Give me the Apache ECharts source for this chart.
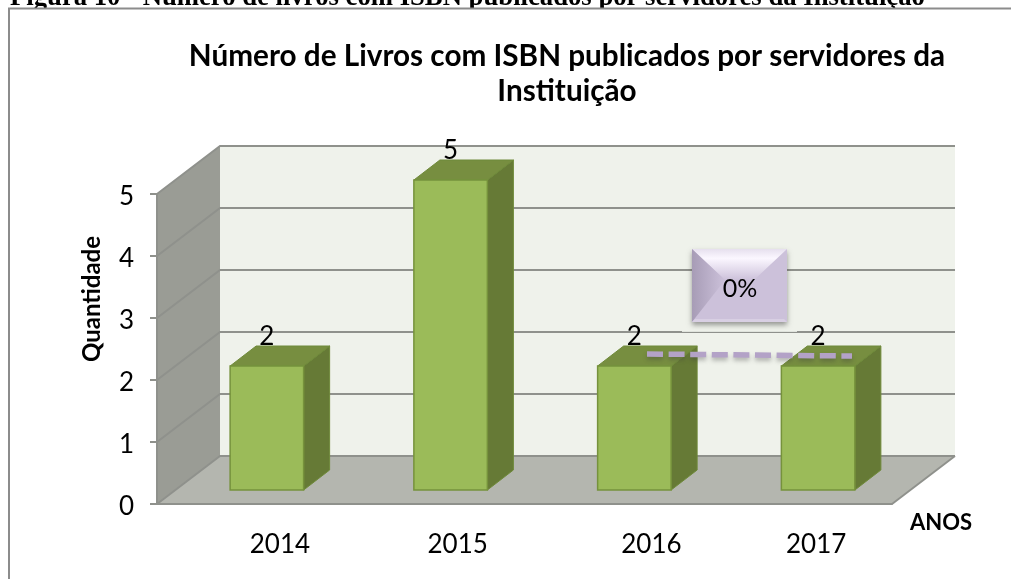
<!DOCTYPE html>
<html><head><meta charset="utf-8">
<style>html,body{margin:0;padding:0;background:#fff}#c{width:1011px;height:579px}</style>
<script src="https://cdn.jsdelivr.net/npm/echarts@6/dist/echarts.min.js"></script>
</head><body><div id="c"></div>
<script>
const categories = ['2014','2015','2016','2017'];
const quantities = [2,5,2,2];
const yTicks = [0,1,2,3,4,5];
const figureCaption = 'Figura 10 - Número de livros com ISBN publicados por servidores da Instituição';
const chartTitle = 'Número de Livros com ISBN publicados por servidores da\nInstituição';
const calloutText = '0%';

// Layout constants (oblique projection and per-label nudges)
const WALL_DX = 63, WALL_DY = -48;
const BAR_OX = 18, BAR_OY = -14, BAR_DX = 26, BAR_DY = -20;
const labelNudge = [31,25,35,16];
const FONT = 'Lato, "Open Sans", sans-serif';

const chart = echarts.init(document.getElementById('c'), null, {renderer:'canvas'});

function wallsItem(params, api){
  const cs = params.coordSys;
  const L = cs.x, R = cs.x + cs.width, B = cs.y + cs.height, T = cs.y;
  const ch = [];
  const gridStyle = {stroke:'#8f918c', lineWidth:2, fill:null};
  ch.push({type:'polygon', shape:{points:[[L+WALL_DX,T+WALL_DY],[R+WALL_DX,T+WALL_DY],[R+WALL_DX,B+WALL_DY],[L+WALL_DX,B+WALL_DY]]}, style:{fill:'#eff2eb'}});
  ch.push({type:'polygon', shape:{points:[[L,T],[L+WALL_DX,T+WALL_DY],[L+WALL_DX,B+WALL_DY],[L,B]]}, style:{fill:'#9a9c95'}});
  ch.push({type:'polygon', shape:{points:[[L,B],[L+WALL_DX,B+WALL_DY],[R+WALL_DX,B+WALL_DY],[R,B]]}, style:{fill:'#b4b6af'}});
  yTicks.forEach(v=>{
    const y = api.coord([0,v])[1];
    ch.push({type:'polyline', shape:{points:[[L,y],[L+WALL_DX,y+WALL_DY],[R+WALL_DX,y+WALL_DY]]}, style:gridStyle});
  });
  ch.push({type:'line', shape:{x1:R,y1:B,x2:R+WALL_DX,y2:B+WALL_DY}, style:{stroke:'#8f918c',lineWidth:2}});
  return {type:'group', silent:true, children:ch};
}

function barItem(params, api){
  const cat = api.value(0), val = api.value(1);
  const c = api.coord([cat,val]), b = api.coord([cat,0]);
  const w = api.size([1,0])[0]*0.4;
  const x0 = c[0]-w/2+BAR_OX, x1 = x0+w, yt = c[1]+BAR_OY, yb = b[1]+BAR_OY;
  const edge = '#76923c';
  return {type:'group', children:[
    {type:'polygon', shape:{points:[[x1,yt],[x1+BAR_DX,yt+BAR_DY],[x1+BAR_DX,yb+BAR_DY],[x1,yb]]}, style:{fill:'#667a36', stroke:'#6f8a3a', lineWidth:1}},
    {type:'polygon', shape:{points:[[x0,yt],[x0+BAR_DX,yt+BAR_DY],[x1+BAR_DX,yt+BAR_DY],[x1,yt]]}, style:{fill:'#778e40', stroke:'#6f8a3a', lineWidth:1}},
    {type:'rect', shape:{x:x0,y:yt,width:w,height:yb-yt}, style:{fill:'#9bbb59', stroke:edge, lineWidth:1.5}},
    {type:'text', z2:10, style:{text:String(val), x:(x0+x1)/2, y:yt+BAR_DY+4, align:'center', verticalAlign:'bottom', font:'26px '+FONT, fill:'#000'}}
  ]};
}

chart.setOption({
  animation:false,
  title:{text:chartTitle, left:562, top:34, textAlign:'center',
    textStyle:{fontFamily:FONT, fontWeight:'bold', fontSize:29.7, lineHeight:35, color:'#000'}},
  grid:{left:157, top:194, width:735, height:310},
  xAxis:{type:'category', data:categories, boundaryGap:true,
    axisLine:{show:true, lineStyle:{color:'#8f918c', width:2}}, axisTick:{show:false},
    axisLabel:{margin:28, fontFamily:FONT, fontSize:26, color:'#000',
      formatter:(v,i)=>'{n'+i+'|'+v+'}',
      rich:Object.fromEntries(labelNudge.map((n,i)=>['n'+i,{fontFamily:FONT,fontSize:26,color:'#000',padding:[0,0,0,2*n]}]))},
    name:'ANOS', nameLocation:'end', nameGap:18,
    nameTextStyle:{fontFamily:FONT, fontWeight:'bold', fontSize:22, color:'#000', verticalAlign:'top', padding:[8,0,0,0]}},
  yAxis:{type:'value', min:0, max:5, interval:1,
    axisLine:{show:true, lineStyle:{color:'#8f918c', width:2}},
    axisTick:{show:true, length:7, lineStyle:{color:'#8f918c', width:2}},
    splitLine:{show:false},
    axisLabel:{margin:23, fontFamily:FONT, fontSize:26, color:'#000',
      formatter:'{v|{value}}', rich:{v:{fontFamily:FONT,fontSize:26,color:'#000',padding:[6,0,0,0]}}},
    name:'Quantidade', nameLocation:'middle', nameGap:53, nameRotate:90,
    nameTextStyle:{fontFamily:FONT, fontWeight:'bold', fontSize:24, color:'#000', padding:[0,0,0,100]}},
  series:[
    {type:'custom', name:'walls', z:-1, silent:true, renderItem:wallsItem, data:[[0,0]], encode:{x:0,y:1}, clip:false},
    {type:'custom', name:'Livros', z:3, renderItem:barItem, clip:false,
      data:categories.map((c,i)=>[i,quantities[i]]), encode:{x:0,y:1}}
  ],
  graphic:[
    {type:'text', silent:true, z:10, style:{text:figureCaption, x:10, y:12, verticalAlign:'bottom', font:'bold 26.7px "Liberation Serif"', fill:'#000'}},
    {type:'rect', silent:true, z:10, shape:{x:0,y:9,width:1011,height:10}, style:{fill:'#fff'}},
    {type:'polyline', z:11, silent:true, shape:{points:[[9,579],[9,8.5],[1011,8.5]]}, style:{stroke:'#8c8c8c',lineWidth:2,fill:null}},
    // Callout connector
    {type:'line', z:20, silent:true, shape:{x1:647,y1:354,x2:852,y2:356},
      style:{stroke:'#b3a2c7', lineWidth:5.5, lineDash:[16,5.6], shadowColor:'rgba(60,60,60,.35)', shadowBlur:4, shadowOffsetY:3}},
    // Callout box
    {type:'rect', z:20, silent:true, shape:{x:682,y:322,width:115,height:10}, style:{fill:'rgba(239,242,235,.85)'}},
    {type:'rect', z:20, silent:true, shape:{x:692,y:249,width:95,height:73}, style:{fill:'#ccc1da', shadowColor:'rgba(60,60,60,.5)', shadowBlur:5, shadowOffsetY:3}},
    {type:'polygon', z:21, silent:true, shape:{points:[[692,249],[787,249],[754,280],[725,280]]},
      style:{fill:{type:'linear',x:0,y:0,x2:0,y2:1,colorStops:[{offset:0,color:'#e6e0ee'},{offset:.3,color:'#fbf7ff'},{offset:1,color:'#ccc1da'}]}}},
    {type:'polygon', z:21, silent:true, shape:{points:[[692,249],[725,280],[692,322]]},
      style:{fill:{type:'linear',x:0,y:0,x2:1,y2:0,colorStops:[{offset:0,color:'#a79cb6'},{offset:1,color:'#ccc1da'}]}}},
    {type:'polygon', z:21, silent:true, shape:{points:[[692,322],[787,322],[784,319],[695,319]]},
      style:{fill:'#d8cfe3'}},
    {type:'text', z:22, silent:true, style:{text:calloutText, x:740, y:289, align:'center', verticalAlign:'middle', font:'25px '+FONT, fill:'#000'}}
  ]
});
</script></body></html>
